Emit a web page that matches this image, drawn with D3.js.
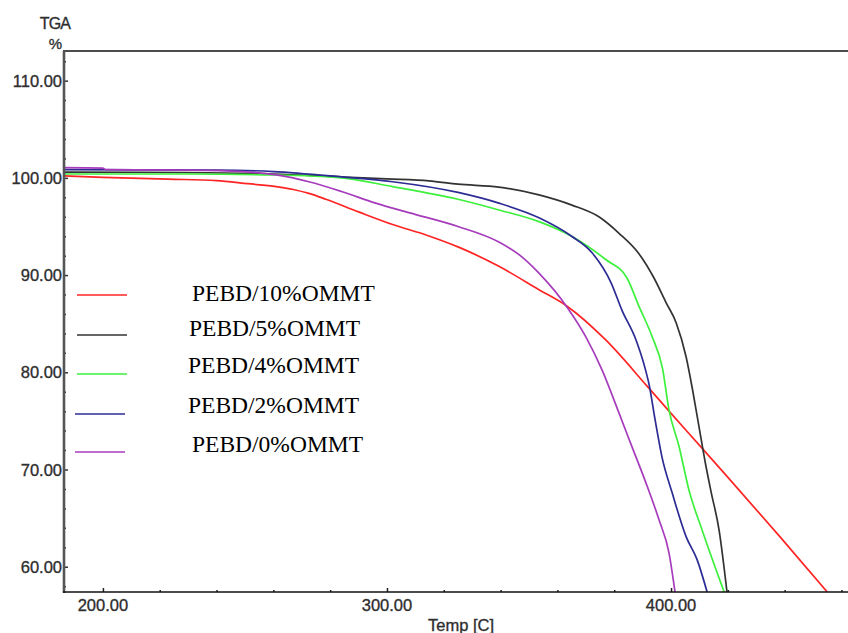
<!DOCTYPE html>
<html>
<head>
<meta charset="utf-8">
<script src="https://cdn.jsdelivr.net/npm/d3@7/dist/d3.min.js"></script>
<style>
  html, body { margin: 0; padding: 0; background: #fff; }
  svg { display: block; }
</style>
</head>
<body>
<svg id="chart" width="848" height="633"></svg>
<script>
// TGA mass loss curves, temperature in °C against residual mass in %
const seriesNames = ["PEBD/10%OMMT", "PEBD/5%OMMT", "PEBD/4%OMMT", "PEBD/2%OMMT", "PEBD/0%OMMT"];
const seriesColors = ["#ff2424", "#333333", "#3cf03c", "#2c2c94", "#a63cbc"];

const pebd10 = [[186.3,100.2],[200,100.05],[223,99.87],[240,99.72],[251,99.4],[261,99.1],[267,98.8],[272.5,98.4],[278.5,97.8],[290,96.5],[302,95.2],[314,94.1],[325,92.9],[339.4,90.9],[353.5,88.5],[363.4,86.8],[377.1,83.3],[391.5,78.6],[399.3,76.0],[410.9,72.2],[419.4,69.4],[438,63.2],[455,57.4]];
const pebd5 = [[186.3,100.6],[230,100.55],[260,100.4],[284,100.1],[300,99.9],[314.8,99.7],[325,99.35],[339.4,99.05],[353.5,98.25],[365.1,97.2],[374.6,96.0],[381.7,94.3],[388.7,92.2],[394,89.7],[398.2,87.2],[401.8,85.1],[405.3,81.6],[407.7,78.0],[409.9,74.3],[412,70.8],[414.1,67.7],[416.9,63.8],[419.7,57.4]];
const pebd4 = [[186.3,100.4],[230,100.4],[260,100.3],[284,100.0],[302,99.1],[325,97.8],[339.4,96.7],[353.5,95.5],[365,94.0],[377,91.6],[384.5,89.7],[388.7,86.8],[393.3,83.7],[397,80.4],[399.3,76.1],[402.8,72.4],[406.3,67.9],[410.9,63.8],[418.7,57.4]];
const pebd2 = [[186.3,100.85],[240,100.8],[260,100.65],[284,100.1],[302,99.6],[325,98.5],[339.4,97.4],[353.5,95.9],[365,94.0],[372.2,92.3],[378.9,89.2],[382.7,86.4],[387.7,83.3],[390.5,80.8],[392.3,78.7],[394.4,75.1],[396.8,71.3],[400.4,67.6],[405.3,63.1],[409.2,60.7],[412.7,57.4]];
const pebd0 = [[186.3,101.05],[200,101.0],[201,100.85],[231,100.8],[249,100.65],[261,100.3],[272.5,99.6],[284,98.6],[296,97.4],[308,96.4],[325,95.0],[339.4,93.4],[346.5,92.1],[353.5,90.2],[363.4,86.7],[370.1,83.6],[375.7,80.25],[381.7,75.8],[386.3,72.3],[391.2,68.6],[395.8,64.8],[399.3,61.4],[401.4,57.4]];
const seriesData = [pebd10, pebd5, pebd4, pebd2, pebd0];

const xMajorTicks = [200, 300, 400];
const yMajorTicks = [60, 70, 80, 90, 100, 110];

const svg = d3.select("#chart");
const plot = { left: 64, right: 848, top: 51, bottom: 592 };

const x = d3.scaleLinear().domain([186.3, 462.3]).range([plot.left, plot.right]);
const y = d3.scaleLinear().domain([57.4, 113.05]).range([plot.bottom, plot.top]);

svg.append("defs").append("clipPath").attr("id", "plotClip")
  .append("rect")
  .attr("x", plot.left).attr("y", plot.top)
  .attr("width", plot.right - plot.left).attr("height", plot.bottom - plot.top);

const tickFont = "'Liberation Sans', Arial, sans-serif";

// Curves
const line = d3.line()
  .x(d => x(d[0]))
  .y(d => y(d[1]))
  .curve(d3.curveMonotoneX);

svg.append("g").attr("clip-path", "url(#plotClip)")
  .selectAll("path")
  .data(seriesData)
  .join("path")
  .attr("d", line)
  .attr("fill", "none")
  .attr("stroke", (d, i) => seriesColors[i])
  .attr("stroke-width", 1.7)
  .attr("stroke-linejoin", "round");

// Frame: top rule, left and bottom axes
svg.append("line")
  .attr("x1", plot.left - 1).attr("x2", plot.right)
  .attr("y1", plot.top).attr("y2", plot.top)
  .attr("stroke", "#111").attr("stroke-width", 1.6);

const yAxis = d3.axisRight(y)
  .tickValues(yMajorTicks)
  .tickSize(4)
  .tickFormat("");
const yMinor = d3.axisRight(y)
  .tickValues(d3.range(58, 113, 2).filter(v => v % 10 !== 0))
  .tickSize(2)
  .tickFormat("");

const gy = svg.append("g").attr("transform", `translate(${plot.left},0)`);
gy.call(yAxis);
gy.append("g").call(yMinor);
gy.selectAll(".domain").remove();
gy.selectAll(".tick line").attr("stroke", "#333").attr("stroke-width", 1.5);

svg.append("line")
  .attr("x1", plot.left).attr("x2", plot.left)
  .attr("y1", plot.top).attr("y2", plot.bottom + 1)
  .attr("stroke", "#555").attr("stroke-width", 2.6);

const xAxis = d3.axisTop(x)
  .tickValues(xMajorTicks)
  .tickSize(4)
  .tickFormat("");
const xMinor = d3.axisTop(x)
  .tickValues(d3.range(220, 462, 20).filter(v => v % 100 !== 0))
  .tickSize(2)
  .tickFormat("");

const gx = svg.append("g").attr("transform", `translate(0,${plot.bottom})`);
gx.call(xAxis);
gx.append("g").call(xMinor);
gx.selectAll(".domain").remove();
gx.selectAll(".tick line").attr("stroke", "#222").attr("stroke-width", 1.5);

svg.append("line")
  .attr("x1", plot.left - 1).attr("x2", plot.right)
  .attr("y1", plot.bottom).attr("y2", plot.bottom)
  .attr("stroke", "#111").attr("stroke-width", 1.6);

// Tick labels
const labelStyle = sel => sel
  .attr("font-family", tickFont)
  .attr("font-size", 16.5)
  .attr("fill", "#2a2a2a")
  .attr("stroke", "#3a3a3a")
  .attr("stroke-width", 0.35);

svg.append("g").selectAll("text")
  .data(yMajorTicks)
  .join("text")
  .attr("x", plot.left - 2)
  .attr("y", d => y(d) + 6)
  .attr("text-anchor", "end")
  .call(labelStyle)
  .text(d => d3.format(".2f")(d));

svg.append("g").selectAll("text")
  .data(xMajorTicks)
  .join("text")
  .attr("x", d => x(d))
  .attr("y", 611)
  .attr("text-anchor", "middle")
  .call(labelStyle)
  .text(d => d3.format(".2f")(d));

// Axis titles
svg.append("text")
  .attr("x", 55).attr("y", 29)
  .attr("text-anchor", "middle")
  .call(labelStyle).attr("font-size", 16)
  .attr("letter-spacing", -0.8)
  .text("TGA");
svg.append("text")
  .attr("x", 62).attr("y", 49)
  .attr("text-anchor", "end")
  .call(labelStyle).attr("font-size", 15)
  .text("%");
svg.append("text")
  .attr("x", 461).attr("y", 631)
  .attr("text-anchor", "middle")
  .call(labelStyle)
  .text("Temp [C]");

// Legend
const legendRows = [
  { lx: 77, ly: 295, tx: 192, ty: 301 },
  { lx: 77, ly: 335, tx: 189, ty: 336 },
  { lx: 77, ly: 374, tx: 188, ty: 373 },
  { lx: 75, ly: 414, tx: 188, ty: 413 },
  { lx: 75, ly: 452, tx: 192, ty: 452 }
];
const legend = svg.append("g");
legend.selectAll("line")
  .data(seriesNames)
  .join("line")
  .attr("x1", (d, i) => legendRows[i].lx)
  .attr("x2", (d, i) => legendRows[i].lx + 50)
  .attr("y1", (d, i) => legendRows[i].ly)
  .attr("y2", (d, i) => legendRows[i].ly)
  .attr("stroke", (d, i) => seriesColors[i])
  .attr("stroke-width", 1.7);
legend.selectAll("text")
  .data(seriesNames)
  .join("text")
  .attr("x", (d, i) => legendRows[i].tx)
  .attr("y", (d, i) => legendRows[i].ty)
  .attr("font-family", "'Liberation Serif', 'Times New Roman', serif")
  .attr("font-size", 23.5)
  .attr("fill", "#000")
  .text(d => d);
</script>
</body>
</html>
